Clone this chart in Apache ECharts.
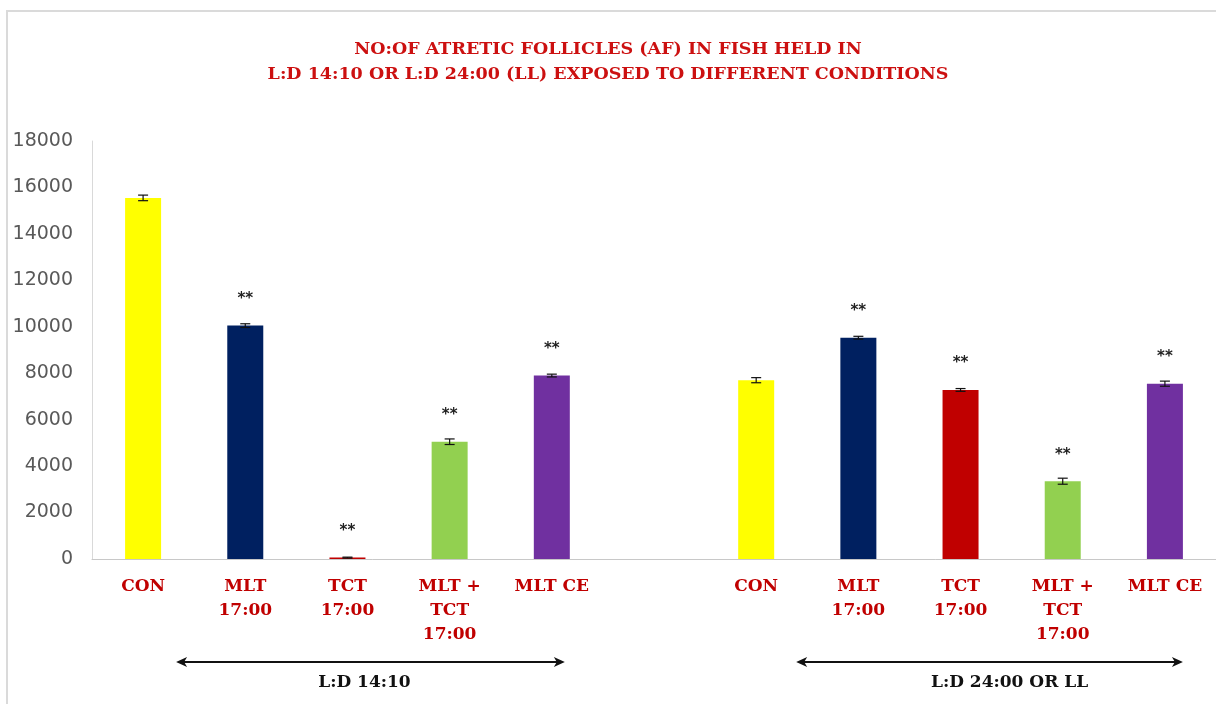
<!DOCTYPE html>
<html>
<head>
<meta charset="utf-8">
<title>Atretic follicles</title>
<script src="https://cdn.jsdelivr.net/npm/echarts@6/dist/echarts.min.js"></script>
<style>
  html, body { margin: 0; padding: 0; background: #ffffff; }
  #chart { width: 1216px; height: 704px; }
</style>
</head>
<body>
<div id="chart"></div>
<script>
// Treatment groups: two photoperiod blocks separated by an empty slot
const categories = [
  'CON', 'MLT\n17:00', 'TCT\n17:00', 'MLT +\nTCT\n17:00', 'MLT CE',
  '',
  'CON', 'MLT\n17:00', 'TCT\n17:00', 'MLT +\nTCT\n17:00', 'MLT CE'
];
// Mean number of atretic follicles
const meanValues = [15550, 10050, 60, 5050, 7900, null, 7700, 9530, 7280, 3350, 7550];
// Standard error of each mean
const errorValues = [120, 80, 20, 120, 60, null, 110, 60, 60, 130, 110];
// Significance marks shown above bars
const significance = ['', '**', '**', '**', '**', '', '', '**', '**', '**', '**'];
// Bar colours per treatment
const barColors = ['#ffff00', '#002060', '#c00000', '#92d050', '#7030a0', '#ffffff',
                   '#ffff00', '#002060', '#c00000', '#92d050', '#7030a0'];
// Y-axis scale
const yMin = 0, yMax = 18000, yStep = 2000;
// Photoperiod block captions
const blockLabels = ['L:D 14:10', 'L:D 24:00 OR LL'];

const chart = echarts.init(document.getElementById('chart'));

const barData = meanValues.map((v, i) => ({
  value: v,
  itemStyle: { color: barColors[i] },
  label: {
    show: significance[i] !== '',
    formatter: significance[i]
  }
}));

const errorData = meanValues.map((v, i) => v == null ? [i, null, null] : [i, v - errorValues[i], v + errorValues[i]]);

chart.setOption({
  animation: false,
  backgroundColor: '#ffffff',
  title: {
    text: 'NO:OF ATRETIC FOLLICLES (AF) IN FISH HELD IN\nL:D 14:10 OR L:D 24:00 (LL) EXPOSED TO DIFFERENT CONDITIONS',
    left: 'center',
    top: 32,
    textStyle: {
      color: '#cc1010',
      fontFamily: 'DejaVu Serif',
      fontWeight: 'bold',
      fontSize: 17.5,
      lineHeight: 25
    }
  },
  grid: { left: 92, right: 0, top: 141, bottom: 145, containLabel: false },
  xAxis: {
    type: 'category',
    data: categories,
    axisTick: { show: false },
    axisLine: { lineStyle: { color: '#c8c8c8', width: 1 } },
    axisLabel: {
      interval: 0,
      margin: 16,
      color: '#c00000',
      fontFamily: 'DejaVu Serif',
      fontWeight: 'bold',
      fontSize: 17,
      lineHeight: 24
    }
  },
  yAxis: {
    type: 'value',
    min: yMin,
    max: yMax,
    interval: yStep,
    splitLine: { show: false },
    axisTick: { show: false },
    axisLine: { show: true, lineStyle: { color: '#d9d9d9', width: 1 } },
    axisLabel: {
      margin: 19,
      color: '#595959',
      fontFamily: 'DejaVu Sans',
      fontSize: 19,
      formatter: v => String(v)
    }
  },
  series: [
    {
      type: 'bar',
      data: barData,
      barWidth: 36,
      label: {
        position: 'top',
        distance: 19,
        color: '#222222',
        fontFamily: 'DejaVu Sans',
        fontWeight: 'bold',
        fontSize: 15
      }
    },
    {
      type: 'custom',
      data: errorData,
      z: 5,
      renderItem: function (params, api) {
        const lo = api.value(1), hi = api.value(2);
        if (lo == null || isNaN(lo)) return null;
        const x = api.value(0);
        const pLo = api.coord([x, lo]);
        const pHi = api.coord([x, hi]);
        const cap = 5;
        const style = { stroke: '#111111', lineWidth: 1.2 };
        return {
          type: 'group',
          children: [
            { type: 'line', shape: { x1: pLo[0], y1: pLo[1], x2: pHi[0], y2: pHi[1] }, style: style },
            { type: 'line', shape: { x1: pLo[0] - cap, y1: pLo[1], x2: pLo[0] + cap, y2: pLo[1] }, style: style },
            { type: 'line', shape: { x1: pHi[0] - cap, y1: pHi[1], x2: pHi[0] + cap, y2: pHi[1] }, style: style }
          ]
        };
      }
    }
  ]
});

// Double-headed arrows spanning each photoperiod block, placed from the category axis
function blockArrow(fromIdx, toIdx, padLeft, padRight, y, caption, captionShift) {
  const x1 = chart.convertToPixel({ xAxisIndex: 0 }, fromIdx) + padLeft;
  const x2 = chart.convertToPixel({ xAxisIndex: 0 }, toIdx) + padRight;
  const head = 11, half = 5;
  return [
    { type: 'line', shape: { x1: x1 + 4, y1: y, x2: x2 - 4, y2: y }, style: { stroke: '#111111', lineWidth: 2 } },
    { type: 'polygon', shape: { points: [[x1, y], [x1 + head, y - half], [x1 + head - 3, y], [x1 + head, y + half]] }, style: { fill: '#111111' } },
    { type: 'polygon', shape: { points: [[x2, y], [x2 - head, y - half], [x2 - head + 3, y], [x2 - head, y + half]] }, style: { fill: '#111111' } },
    {
      type: 'text',
      x: (x1 + x2) / 2 + captionShift,
      y: y + 21,
      style: {
        text: caption,
        align: 'center',
        verticalAlign: 'middle',
        fill: '#111111',
        font: 'bold 17px "DejaVu Serif"'
      }
    }
  ];
}

chart.setOption({
  graphic: [
    {
      type: 'rect',
      shape: { x: 7, y: 11, width: 1216, height: 704 },
      style: { fill: 'none', stroke: '#dadada', lineWidth: 2 },
      silent: true
    },
    ...blockArrow(0, 4, 33, 13, 662, blockLabels[0], -6),
    ...blockArrow(6, 10, 40, 18, 662, blockLabels[1], 20)
  ]
});
</script>
</body>
</html>
